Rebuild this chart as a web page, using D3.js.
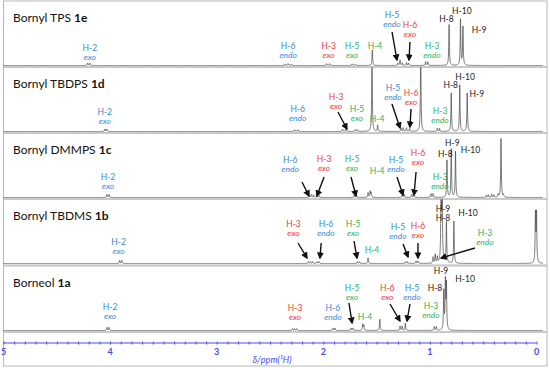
<!DOCTYPE html>
<html>
<head>
<meta charset="UTF-8">
<title></title>
<style>
  body { margin: 0; background: #fff; }
  text { font-family: Lato, "Open Sans", sans-serif; }
</style>
</head>
<body>
<script src="https://d3js.org/d3.v7.min.js"></script>
<script>
// compounds, top to bottom
var panelNames = ["Bornyl TPS ", "Bornyl TBDPS ", "Bornyl DMMPS ", "Bornyl TBDMS ", "Borneol "];
var compoundIds = ["1e", "1d", "1c", "1b", "1a"];

// peak lists: chemical shift (ppm) and relative intensity (1 = full panel)
var shifts1e  = [4.21, 4.19, 2.36, 2.33, 2.30, 1.97, 1.94, 1.73, 1.70, 1.54, 1.30, 1.28, 1.26, 1.22, 1.20, 1.04, 1.02, 0.82, 0.713, 0.69];
var heights1e = [0.04, 0.04, 0.025, 0.03, 0.025, 0.03, 0.03, 0.025, 0.025, 0.25, 0.04, 0.09, 0.04, 0.05, 0.04, 0.06, 0.06, 0.66, 0.74, 0.62];

var shifts1d  = [4.05, 4.03, 2.27, 2.24, 1.82, 1.79, 1.70, 1.68, 1.543, 1.49, 1.27, 1.25, 1.22, 1.19, 1.086, 0.93, 0.91, 0.80, 0.72, 0.65];
var heights1d = [0.04, 0.04, 0.03, 0.03, 0.04, 0.04, 0.03, 0.03, 1.3, 0.1, 0.05, 0.06, 0.06, 0.05, 1.3, 0.05, 0.05, 0.62, 0.75, 0.62];

var shifts1c  = [4.03, 4.01, 2.13, 2.11, 2.09, 2.06, 2.04, 1.71, 1.69, 1.58, 1.56, 1.55, 1.26, 1.24, 1.17, 1.15, 0.99, 0.97, 0.84, 0.80, 0.76, 0.47, 0.45, 0.42, 0.40, 0.36, 0.333, 0.31];
var heights1c = [0.05, 0.05, 0.04, 0.05, 0.04, 0.03, 0.03, 0.04, 0.04, 0.08, 0.1, 0.07, 0.05, 0.05, 0.05, 0.05, 0.06, 0.06, 0.6, 0.78, 0.74, 0.04, 0.04, 0.05, 0.04, 0.05, 0.95, 0.04];

var shifts1b  = [3.91, 3.89, 2.14, 2.12, 2.10, 2.06, 2.04, 1.68, 1.66, 1.58, 1.23, 1.21, 1.13, 1.11, 0.97, 0.95, 0.93, 0.895, 0.885, 0.845, 0.775, 0.01, 0.0];
var heights1b = [0.05, 0.05, 0.03, 0.03, 0.03, 0.03, 0.03, 0.03, 0.03, 0.09, 0.03, 0.03, 0.04, 0.04, 0.1, 0.14, 0.1, 1.3, 1.3, 0.66, 0.68, 0.78, 0.78];

var shifts1a  = [4.03, 4.01, 2.29, 2.27, 2.25, 1.91, 1.89, 1.74, 1.72, 1.63, 1.62, 1.47, 1.28, 1.26, 1.23, 0.96, 0.94, 0.87, 0.855, 0.845];
var heights1a = [0.05, 0.05, 0.03, 0.03, 0.03, 0.04, 0.04, 0.04, 0.04, 0.1, 0.08, 0.18, 0.07, 0.07, 0.12, 0.06, 0.06, 0.62, 0.76, 0.72];

var allShifts = [shifts1e, shifts1d, shifts1c, shifts1b, shifts1a];
var allHeights = [heights1e, heights1d, heights1c, heights1b, heights1a];

var axisTicks = [5, 4, 3, 2, 1, 0];

// labels: [line1, line2, colour key, ppm, y1, y2]  (y relative to panel top)
var labels = [
  [["H-2","exo","b",4.19,47,56],["H-6","endo","b",2.33,45,54],["H-3","exo","r",1.95,45,54],["H-5","exo","g",1.73,45,54],
   ["H-4","","g",1.515,45,0],["H-5","endo","b",1.356,14,23],["H-6","exo","r",1.187,24,33],["H-3","endo","g",0.98,45,54],
   ["H-8","","k",0.845,18,0],["H-10","","k",0.70,10,0],["H-9","","k",0.539,29,0]],
  [["H-2","exo","b",4.05,45,54],["H-6","endo","b",2.24,42,51],["H-3","exo","r",1.88,30,39],["H-5","exo","g",1.684,42,51],
   ["H-4","","g",1.496,52,0],["H-5","endo","b",1.346,21,30],["H-6","exo","r",1.177,26,35],["H-3","endo","g",0.905,44,53],
   ["H-8","","k",0.805,18,0],["H-10","","k",0.67,10,0],["H-9","","k",0.56,27,0]],
  [["H-2","exo","b",4.02,44,53],["H-6","endo","b",2.31,27,36],["H-3","exo","r",1.993,26,35],["H-5","exo","g",1.73,26,35],
   ["H-4","","g",1.496,38,0],["H-5","endo","b",1.318,27,36],["H-6","exo","r",1.112,20,29],["H-3","endo","g",0.905,44,53],
   ["H-8","","k",0.855,21,0],["H-9","","k",0.79,10,0],["H-10","","k",0.62,17,0]],
  [["H-2","exo","b",3.92,43,52],["H-3","exo","r",2.28,25,34],["H-6","endo","b",1.975,25,34],["H-5","exo","g",1.72,25,34],
   ["H-4","","g",1.543,51,0],["H-5","endo","b",1.30,28,37],["H-6","exo","r",1.112,27,36],["H-3","endo","g",0.483,34,43],
   ["H-9","","k",0.877,10,0],["H-8","","k",0.877,19,0],["H-10","","k",0.643,14,0]],
  [["H-2","exo","b",4.0,41,50],["H-3","exo","r",2.265,42,51],["H-6","endo","b",1.91,42,51],["H-5","exo","g",1.73,22,31],
   ["H-4","","g",1.609,51,0],["H-6","exo","r",1.40,22,31],["H-5","endo","b",1.168,22,31],["H-3","endo","g",0.99,40,49],
   ["H-9","","k",0.896,5,0],["H-8","","k",0.952,22,0],["H-10","","k",0.67,13,0]]
];

// arrows: [ppm from, y from, ppm to, y to]
var arrows = [
  [[1.355,31,1.309,59],[1.187,41,1.196,59]],
  [[1.862,45,1.778,62],[1.356,37,1.28,61],[1.177,42,1.187,60]],
  [[2.20,49,2.134,63],[1.993,44,2.06,63],[1.74,44,1.693,63],[1.309,44,1.252,62],[1.13,39,1.149,62]],
  [[2.237,44,2.153,59],[2.02,44,2.031,59],[1.712,42,1.684,59],[1.252,45,1.205,58],[1.112,44,1.112,59],[0.577,49,0.896,59]],
  [[1.759,37,1.73,57],[1.374,38,1.281,55],[1.187,38,1.215,55]]
];

var colours = { b: "#3a8ad6", r: "#f23a3a", g: "#2fb35e", k: "#222" };

var width = 550, height = 370;
var panelTops = [1, 67, 133, 199, 266];
var panelH = 66;
var boxL = 3.5, boxR = 547;

var svg = d3.select("body").append("svg")
  .attr("width", width)
  .attr("height", height);

var defs = svg.append("defs");
defs.append("marker")
  .attr("id", "head")
  .attr("viewBox", "0 0 10 10")
  .attr("refX", 8).attr("refY", 5)
  .attr("markerWidth", 5).attr("markerHeight", 5)
  .attr("orient", "auto")
  .append("path")
  .attr("d", "M0,0 L10,5 L0,10 z")
  .attr("fill", "#111");

var x = d3.scaleLinear().domain([5, 0]).range([3.5, 536.5]);

// sample grid for line shapes
var grid = d3.range(5.08, -0.06, -0.001);
var gamma = 0.0035;

panelTops.forEach(function(top, i) {
  var g = svg.append("g").attr("transform", "translate(0," + top + ")");

  defs.append("clipPath").attr("id", "clip" + i)
    .append("rect").attr("x", boxL).attr("y", 0.5).attr("width", boxR - boxL).attr("height", panelH - 1);

  g.append("rect")
    .attr("x", boxL).attr("y", 0)
    .attr("width", boxR - boxL).attr("height", panelH)
    .attr("fill", "none").attr("stroke", "#b8b8b8").attr("stroke-width", 1);

  var y = d3.scaleLinear().domain([0, 1]).range([panelH - 1.5, panelH - 1.5 - 62]);
  var sh = allShifts[i], ht = allHeights[i];
  var pts = grid.map(function(p) {
    var s = 0;
    for (var k = 0; k < sh.length; k++) {
      var d = p - sh[k];
      s += ht[k] * gamma * gamma / (d * d + gamma * gamma);
    }
    return [p, s];
  });
  var line = d3.line().x(function(d) { return x(d[0]); }).y(function(d) { return y(d[1]); });
  g.append("path")
    .attr("d", line(pts))
    .attr("clip-path", "url(#clip" + i + ")")
    .attr("fill", "none")
    .attr("stroke", "#444")
    .attr("stroke-width", 0.7);

  var t = g.append("text").attr("x", 13).attr("y", 21).attr("font-size", 12).attr("fill", "#111");
  t.append("tspan").text(panelNames[i]);
  t.append("tspan").attr("font-weight", "bold").text(compoundIds[i]);

  labels[i].forEach(function(l) {
    var c = colours[l[2]];
    g.append("text")
      .attr("x", x(l[3])).attr("y", l[4] + 3)
      .attr("text-anchor", "middle").attr("font-size", 8.5).attr("fill", c)
      .text(l[0]);
    if (l[1]) {
      g.append("text")
        .attr("x", x(l[3])).attr("y", l[5] + 3)
        .attr("text-anchor", "middle").attr("font-size", 8.5).attr("font-style", "italic").attr("fill", c)
        .text(l[1]);
    }
  });

  arrows[i].forEach(function(a) {
    g.append("line")
      .attr("x1", x(a[0])).attr("y1", a[1])
      .attr("x2", x(a[2])).attr("y2", a[3])
      .attr("stroke", "#111").attr("stroke-width", 1.4)
      .attr("marker-end", "url(#head)");
  });
});

// axis panel
svg.append("rect")
  .attr("x", boxL).attr("y", 332)
  .attr("width", boxR - boxL).attr("height", 34)
  .attr("fill", "none").attr("stroke", "#b8b8b8");

var axisCol = "#4a4af0";
var axis = d3.axisBottom(x)
  .tickValues(d3.range(50, -1, -1).map(function(v) { return v / 10; }))
  .tickSize(2)
  .tickFormat("");
var ax = svg.append("g").attr("transform", "translate(0,343)").call(axis);
ax.select(".domain").attr("stroke", axisCol).attr("d", "M" + x(5) + ",0H" + x(0));
ax.selectAll(".tick line").attr("stroke", axisCol).attr("y1", -1.5).attr("y2", 1.5);

svg.selectAll(".tlabel").data(axisTicks).enter().append("text")
  .attr("class", "tlabel")
  .attr("x", function(d) { return x(d); })
  .attr("y", 355)
  .attr("text-anchor", "middle")
  .attr("font-size", 9)
  .attr("font-weight", "bold")
  .attr("fill", axisCol)
  .text(function(d) { return d; });

svg.append("text")
  .attr("x", 272).attr("y", 363)
  .attr("text-anchor", "middle")
  .attr("font-size", 9)
  .attr("font-style", "italic")
  .attr("fill", axisCol)
  .text("δ/ppm(¹H)");
</script>
</body>
</html>
